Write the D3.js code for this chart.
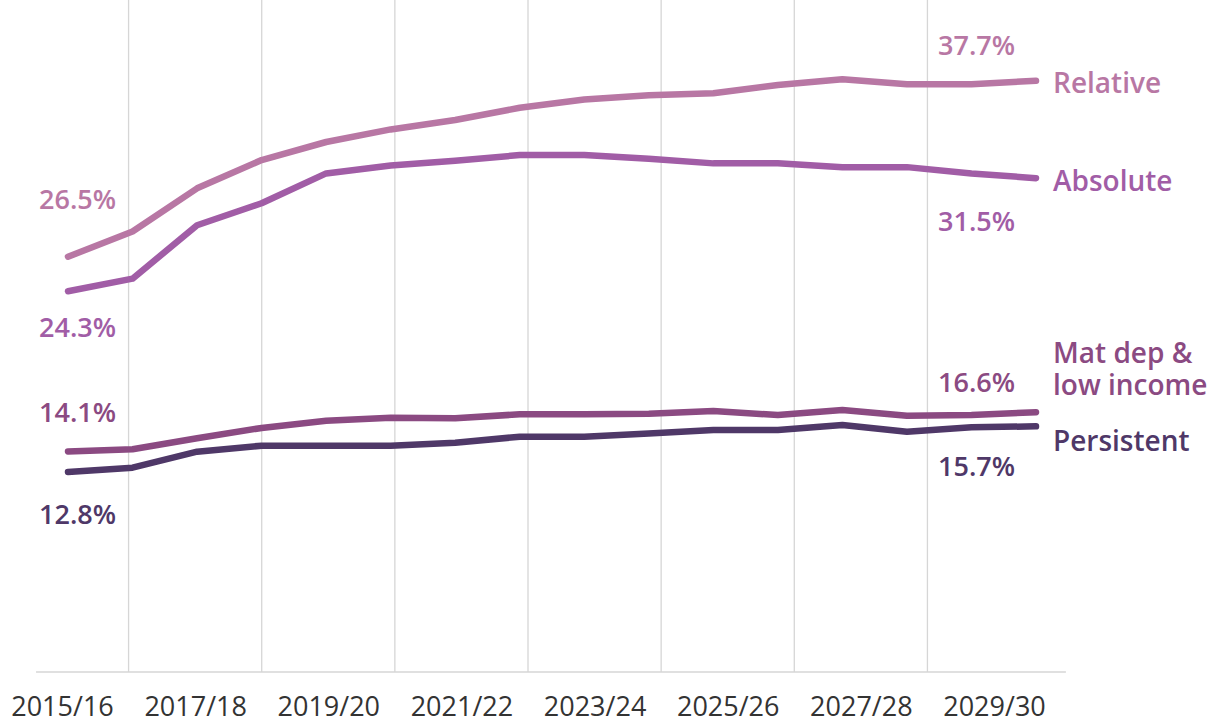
<!DOCTYPE html>
<meta charset="utf-8">
<style>
body { margin: 0; background: #fff; }
text { font-family: "Open Sans", sans-serif; }
.grid line { stroke: #d6d6d6; stroke-width: 1.3; }
.series { fill: none; stroke-width: 6.5; stroke-linecap: round; stroke-linejoin: round; }
.axis text { font-size: 27px; fill: #333; }
.lbl { font-size: 27px; font-weight: 600; }
.name { font-size: 28px; font-weight: 600; }
</style>
<body>
<script src="https://d3js.org/d3.v7.min.js"></script>
<script>

var width = 1211,
    height = 724;

var years = ["2015/16", "2016/17", "2017/18", "2018/19", "2019/20", "2020/21", "2021/22", "2022/23",
             "2023/24", "2024/25", "2025/26", "2026/27", "2027/28", "2028/29", "2029/30", "2030/31"];

// % of children in poverty
var relative   = [26.5, 28.1, 30.85, 32.65, 33.8, 34.6, 35.2, 35.98, 36.5, 36.77, 36.9, 37.43, 37.79, 37.47, 37.47, 37.7];
var absolute   = [24.3, 25.1, 28.5, 29.9, 31.8, 32.3, 32.6, 32.97, 32.97, 32.74, 32.44, 32.44, 32.2, 32.2, 31.8, 31.5];
var matDep     = [14.1, 14.24, 14.94, 15.6, 16.06, 16.25, 16.21, 16.47, 16.47, 16.5, 16.68, 16.42, 16.74, 16.38, 16.42, 16.6];
var persistent = [12.8, 13.07, 14.09, 14.47, 14.47, 14.47, 14.66, 15.04, 15.04, 15.24, 15.47, 15.47, 15.79, 15.36, 15.64, 15.7];

var seriesNames  = [["Relative"], ["Absolute"], ["Mat dep &", "low income"], ["Persistent"]];
var seriesColors = ["#b877a4", "#a15da6", "#8b4a82", "#4f3868"];

var series = [relative, absolute, matDep, persistent].map(function(v, i) {
  return { values: v, names: seriesNames[i], color: seriesColors[i] };
});

// label placement (offsets from the first / last point)
var startDy = [-48, 46, -29, 52],
    endDy   = [-26, 53, -20, 50],
    nameDy  = [12, 13, -49, 25];

var svg = d3.select("body").append("svg")
    .attr("width", width)
    .attr("height", height);

// lines sit on a slightly narrower span than the category axis
var x = d3.scaleLinear()
    .domain([0, years.length - 1])
    .range([68, 1036]);

var xAxis = d3.scaleLinear()
    .domain([0, 14])
    .range([62, 994]);

var y = d3.scaleLinear()
    .domain([0, 40])
    .range([673, 44.6]);

var baseY = 672;

svg.append("g")
    .attr("class", "grid")
  .selectAll("line")
  .data([1, 3, 5, 7, 9, 11, 13])
  .enter().append("line")
    .attr("x1", function(d) { return xAxis(d); })
    .attr("x2", function(d) { return xAxis(d); })
    .attr("y1", 0)
    .attr("y2", baseY);

svg.append("line")
    .attr("x1", xAxis(-0.39))
    .attr("x2", xAxis(15.08))
    .attr("y1", baseY)
    .attr("y2", baseY)
    .attr("stroke", "#d6d6d6")
    .attr("stroke-width", 1.5);

svg.append("g")
    .attr("class", "axis")
    .attr("transform", "translate(0," + baseY + ")")
    .call(d3.axisBottom(xAxis)
      .tickValues(d3.range(0, 15, 2))
      .tickFormat(function(i) { return years[i]; })
      .tickSize(0)
      .tickPadding(25))
    .call(function(g) { g.select(".domain").remove(); })
    .selectAll("text")
      .attr("font-family", "Open Sans, sans-serif");

var line = d3.line()
    .x(function(d, i) { return x(i); })
    .y(function(d) { return y(d); });

var last = years.length - 1;

var s = svg.selectAll(".s")
  .data(series)
  .enter().append("g");

s.append("path")
    .attr("class", "series")
    .attr("stroke", function(d) { return d.color; })
    .attr("d", function(d) { return line(d.values); });

s.append("text")
    .attr("class", "lbl")
    .attr("fill", function(d) { return d.color; })
    .attr("x", x(0) - 29)
    .attr("y", function(d, i) { return y(d.values[0]) + startDy[i]; })
    .text(function(d) { return d.values[0].toFixed(1) + "%"; });

s.append("text")
    .attr("class", "lbl")
    .attr("fill", function(d) { return d.color; })
    .attr("x", x(last) - 98)
    .attr("y", function(d, i) { return y(d.values[last]) + endDy[i]; })
    .text(function(d) { return d.values[last].toFixed(1) + "%"; });

s.append("text")
    .attr("class", "name")
    .attr("fill", function(d) { return d.color; })
    .attr("x", x(last) + 17)
    .attr("y", function(d, i) { return y(d.values[last]) + nameDy[i]; })
  .selectAll("tspan")
  .data(function(d) { return d.names; })
  .enter().append("tspan")
    .attr("x", x(last) + 17)
    .attr("dy", function(d, i) { return i ? 32 : 0; })
    .text(function(d) { return d; });

</script>
